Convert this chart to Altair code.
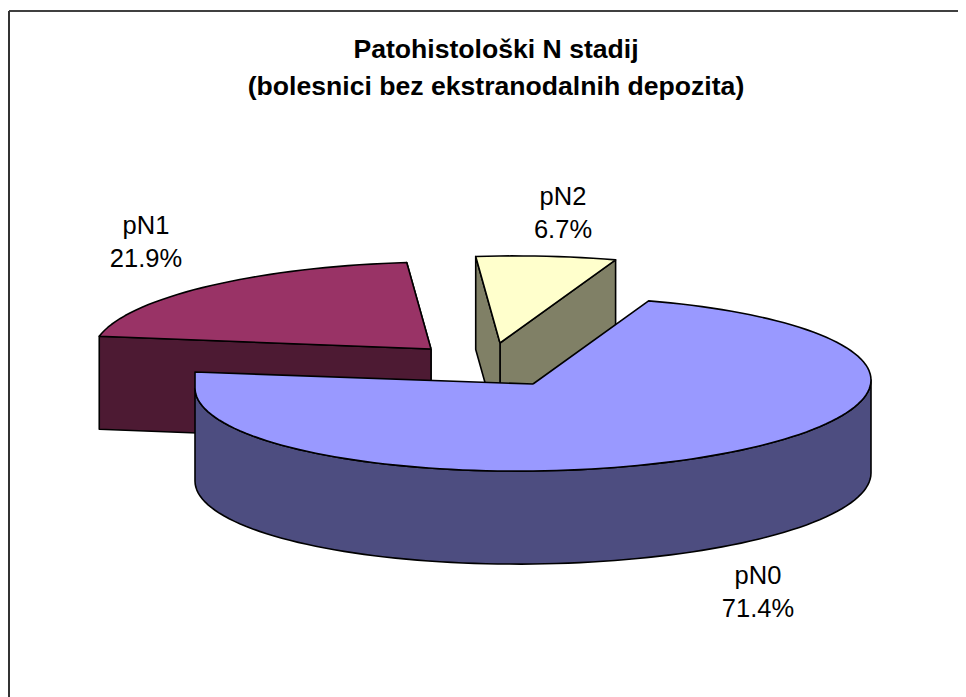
import math
import altair as alt
import pandas as pd

# Chart values
categories = ["pN0", "pN1", "pN2"]
shares = [71.4, 21.9, 6.7]
label_text = ["71.4%", "21.9%", "6.7%"]
top_colors = ["#9999FF", "#993366", "#FFFFCC"]
side_colors = ["#4D4D80", "#4D1A33", "#808066"]
title_lines = ["Patohistološki N stadij", "(bolesnici bez ekstranodalnih depozita)"]

# Pie geometry, in page pixels
W, H = 950, 689
OX, OY = 8, 8
RX, RY, DEPTH, SHEAR = 338, 87, 93, 4
FIRST_ANGLE = 70
apex = {"pN0": (533, 384), "pN1": (431, 349), "pN2": (500, 343)}
label_pos = {"pN0": (758, 576, 609), "pN1": (146, 226, 259), "pN2": (563, 197, 230)}
# perspective correction of slice ends, degrees
end_adjust = {"pN1": 4}
blue_corner_y = 372

xs = alt.Scale(domain=[OX, OX + W], range=[0, W])
ys = alt.Scale(domain=[OY, OY + H], range=[0, H])
X = alt.X("x:Q", scale=xs, axis=None)
Y = alt.Y("y:Q", scale=ys, axis=None)


def rim(cat, deg, dz=0):
    cx, cy = apex[cat]
    t = math.radians(deg)
    return (cx + RX * math.cos(t), cy - RY * math.sin(t) - SHEAR * math.cos(t) + dz)


def poly(points, fill, sw=1.6):
    df = pd.DataFrame(points, columns=["x", "y"])
    df["i"] = range(len(df))
    df = pd.concat([df, df.iloc[[0]].assign(i=len(df))])
    return alt.Chart(df).mark_line(
        fill=fill, stroke="black", strokeWidth=sw, strokeJoin="round", clip=False
    ).encode(x=X, y=Y, order="i:Q")


def arc(cat, a, b, dz=0, step=2):
    n = max(2, int(abs(b - a) / step))
    return [rim(cat, a + (b - a) * k / n, dz) for k in range(n + 1)]


# Slice angles, clockwise from the first angle
spans = {}
cur = FIRST_ANGLE
for c, s in zip(categories, shares):
    spans[c] = (cur, cur - s * 3.6)
    cur -= s * 3.6
# pN1 is drawn from its far end to its near end
spans_pN1 = spans["pN1"]
spans["pN1"] = (spans_pN1[0] - end_adjust["pN1"], spans_pN1[1])

layers = []
# frame: a top and a left line, running off the page
top_line = pd.DataFrame({"x": [9, OX + W], "y": [11, 11]})
left_line = pd.DataFrame({"x": [9, 9], "y": [11, OY + H]})
layers.append(alt.Chart(top_line).mark_line(color="black", strokeWidth=1.5, clip=False).encode(x=X, y=Y))
layers.append(alt.Chart(left_line).mark_line(color="#333333", strokeWidth=2, clip=False).encode(x=X, y=Y))


def faces(cat, i):
    a, b = spans[cat]
    ax, ay = apex[cat]
    out = []
    for ang in (b, a):
        p = rim(cat, ang)
        q = rim(cat, ang, DEPTH)
        out.append(poly([(ax, ay), p, q, (ax, ay + DEPTH)], side_colors[i]))
    return out


def top(cat, i):
    a, b = spans[cat]
    return poly([apex[cat]] + arc(cat, a, b), top_colors[i])


# back to front: pN1, pN2, pN0
for c in ["pN1", "pN2"]:
    i = categories.index(c)
    layers += faces(c, i)
    layers.append(top(c, i))

a0, b0 = spans["pN0"]
wall = arc("pN0", -180, 0) + arc("pN0", 0, -180, DEPTH)
layers.append(poly(wall, side_colors[0]))
corner = (apex["pN0"][0] - RX, blue_corner_y)
layers.append(poly([apex["pN0"]] + arc("pN0", a0, -180) + [corner], top_colors[0]))

# labels
rows = []
for c, t in zip(categories, label_text):
    lx, y1, y2 = label_pos[c]
    rows.append({"x": lx, "y": y1, "t": c})
    rows.append({"x": lx, "y": y2, "t": t})
layers.append(
    alt.Chart(pd.DataFrame(rows)).mark_text(
        font="Liberation Sans", fontSize=25.5, color="black", align="center", baseline="middle"
    ).encode(x=X, y=Y, text="t:N")
)
# title
trows = [{"x": 496, "y": 50 + 37 * k, "t": s} for k, s in enumerate(title_lines)]
layers.append(
    alt.Chart(pd.DataFrame(trows)).mark_text(
        font="Liberation Sans", fontSize=26.6, fontWeight="bold", color="black",
        align="center", baseline="middle"
    ).encode(x=X, y=Y, text="t:N")
)

chart = alt.layer(*layers).properties(
    width=W, height=H, padding=0, autosize=alt.AutoSizeParams(type="none")
).configure_view(stroke=None)

chart.save("out.html", embed_options={"renderer": "svg", "actions": False})
